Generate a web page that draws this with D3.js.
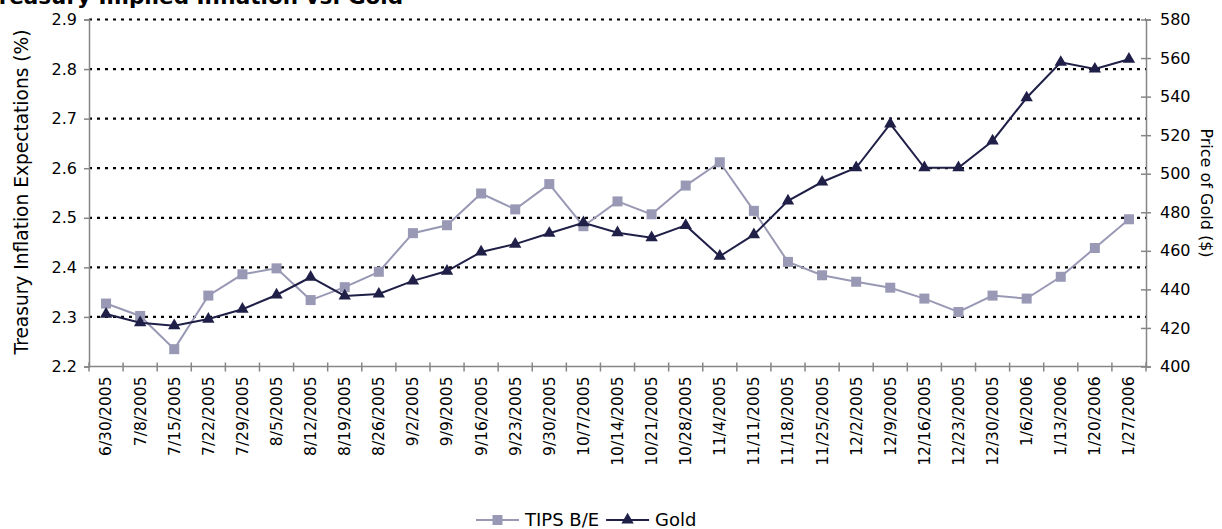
<!DOCTYPE html>
<html>
<head>
<meta charset="utf-8">
<script src="https://cdn.jsdelivr.net/npm/d3@7/dist/d3.min.js"></script>
<style>
  html, body { margin: 0; padding: 0; background: #fff; overflow: hidden; }
  svg { display: block; font-family: "DejaVu Sans", Verdana, sans-serif; }
</style>
</head>
<body>
<svg id="chart" width="1222" height="529"></svg>
<script>
// Weekly observations
const dates = ["6/30/2005","7/8/2005","7/15/2005","7/22/2005","7/29/2005","8/5/2005","8/12/2005",
  "8/19/2005","8/26/2005","9/2/2005","9/9/2005","9/16/2005","9/23/2005","9/30/2005","10/7/2005",
  "10/14/2005","10/21/2005","10/28/2005","11/4/2005","11/11/2005","11/18/2005","11/25/2005",
  "12/2/2005","12/9/2005","12/16/2005","12/23/2005","12/30/2005","1/6/2006","1/13/2006",
  "1/20/2006","1/27/2006"];

// TIPS break-even inflation (%)
const tips = [2.327, 2.302, 2.235, 2.343, 2.386, 2.398, 2.334, 2.360, 2.391, 2.469, 2.485,
  2.549, 2.517, 2.568, 2.483, 2.533, 2.507, 2.565, 2.612, 2.514, 2.411, 2.384, 2.371, 2.359,
  2.337, 2.310, 2.343, 2.337, 2.381, 2.439, 2.497];

// Gold price ($)
const gold = [427.2, 422.7, 421.2, 424.6, 429.7, 437.1, 446.3, 436.6, 437.6, 444.4, 449.5,
  459.4, 463.5, 469.1, 474.6, 469.4, 466.8, 473.2, 457.2, 468.4, 485.9, 495.7, 503.1, 525.8,
  503.1, 503.1, 517.0, 539.4, 557.8, 554.3, 559.4];

const leftTicks = [2.2, 2.3, 2.4, 2.5, 2.6, 2.7, 2.8, 2.9];
const rightTicks = [400, 420, 440, 460, 480, 500, 520, 540, 560, 580];

const svg = d3.select("#chart");
const L = 89, R = 1146, T = 19.5, B = 366.5;
const axisColor = "#868686";
const tipsColor = "#9999b5";
const goldColor = "#1f1f48";
const fs = 16;
const fsX = 15.5;

const x = d3.scaleBand().domain(dates).range([L, R]);
const yL = d3.scaleLinear().domain([2.2, 2.9]).range([B, T]);
const yR = d3.scaleLinear().domain([400, 580]).range([B, T]);
const cx = d => x(d) + x.bandwidth() / 2;

// Dotted gridlines
svg.append("g").selectAll("line").data(leftTicks.slice(1)).join("line")
  .attr("x1", L).attr("x2", R)
  .attr("y1", d => yL(d)).attr("y2", d => yL(d))
  .attr("stroke", "#000").attr("stroke-width", 2.2)
  .attr("stroke-dasharray", "3,5");

// Left axis
const gL = svg.append("g").attr("transform", `translate(${L},0)`)
  .call(d3.axisLeft(yL).tickValues(leftTicks).tickFormat(d3.format(".1f")).tickSize(5).tickPadding(7));
gL.select(".domain").attr("stroke", axisColor).attr("stroke-width", 1.5);
gL.selectAll(".tick line").attr("stroke", axisColor).attr("stroke-width", 1.5);
gL.selectAll(".tick text").attr("font-size", fs).attr("fill", "#000")
  .attr("font-family", "DejaVu Sans");

// Right axis (ticks cross the axis line)
const gR = svg.append("g").attr("transform", `translate(${R},0)`)
  .call(d3.axisRight(yR).tickValues(rightTicks).tickSize(5).tickPadding(9));
gR.select(".domain").attr("stroke", axisColor).attr("stroke-width", 1.5);
gR.selectAll(".tick line").attr("stroke", axisColor).attr("stroke-width", 1.5).attr("x1", -5);
gR.selectAll(".tick text").attr("font-size", fs).attr("fill", "#000")
  .attr("font-family", "DejaVu Sans");

// Category axis
const gX = svg.append("g");
gX.append("line").attr("x1", L).attr("x2", R).attr("y1", B).attr("y2", B)
  .attr("stroke", axisColor).attr("stroke-width", 1.5);
gX.selectAll("line.tk").data(d3.range(dates.length + 1)).join("line").attr("class", "tk")
  .attr("x1", i => L + i * x.step()).attr("x2", i => L + i * x.step())
  .attr("y1", B - 4).attr("y2", B + 5)
  .attr("stroke", axisColor).attr("stroke-width", 1.5);
gX.selectAll("text").data(dates).join("text")
  .attr("transform", d => `translate(${cx(d)},${B + 10}) rotate(-90)`)
  .attr("text-anchor", "end").attr("dy", "0.35em")
  .attr("font-size", fsX).text(d => d);

// Series lines
const lineL = d3.line().x((d, i) => cx(dates[i])).y(d => yL(d));
const lineR = d3.line().x((d, i) => cx(dates[i])).y(d => yR(d));

svg.append("path").datum(tips).attr("d", lineL)
  .attr("fill", "none").attr("stroke", tipsColor).attr("stroke-width", 2);
svg.append("g").selectAll("rect").data(tips).join("rect")
  .attr("x", (d, i) => cx(dates[i]) - 5).attr("y", d => yL(d) - 5)
  .attr("width", 10).attr("height", 10).attr("fill", tipsColor);

svg.append("path").datum(gold).attr("d", lineR)
  .attr("fill", "none").attr("stroke", goldColor).attr("stroke-width", 2);
const tri = d3.symbol().type(d3.symbolTriangle).size(66);
svg.append("g").selectAll("path").data(gold).join("path")
  .attr("d", tri)
  .attr("transform", (d, i) => `translate(${cx(dates[i])},${yR(d)})`)
  .attr("fill", goldColor);

// Axis titles
svg.append("text").attr("transform", `translate(28,192) rotate(-90)`)
  .attr("text-anchor", "middle").attr("font-size", 18.6)
  .text("Treasury Inflation Expectations (%)");
svg.append("text").attr("transform", `translate(1201,193) rotate(90)`)
  .attr("text-anchor", "middle").attr("font-size", 16)
  .text("Price of Gold ($)");

// Chart title, partly above the top edge
const titleText = "Treasury Implied Inflation vs. Gold";
const titleSize = 21.5;
const title = svg.append("text").attr("font-size", titleSize).attr("font-weight", "bold")
  .attr("y", 4).text(titleText);
const tMeasure = svg.append("text").attr("font-size", titleSize).attr("font-weight", "bold").text("T");
const tw = tMeasure.node().getComputedTextLength();
tMeasure.remove();
title.attr("x", -tw + 1);

// Legend
const legSize = 18;
const lg = svg.append("g").attr("transform", "translate(0,520)");
lg.append("line").attr("x1", 476).attr("x2", 519).attr("stroke", tipsColor).attr("stroke-width", 2);
lg.append("rect").attr("x", 492.5).attr("y", -5).attr("width", 10).attr("height", 10).attr("fill", tipsColor);
const t1 = lg.append("text").attr("x", 525).attr("dy", "0.36em").attr("font-size", legSize).text("TIPS B/E");
const w1 = t1.node().getComputedTextLength();
const gx0 = 525 + w1 + 7;
lg.append("line").attr("x1", gx0).attr("x2", gx0 + 43).attr("stroke", goldColor).attr("stroke-width", 2);
lg.append("path").attr("d", tri).attr("transform", `translate(${gx0 + 21.5},0)`).attr("fill", goldColor);
lg.append("text").attr("x", gx0 + 49).attr("dy", "0.36em").attr("font-size", legSize).text("Gold");
</script>
</body>
</html>
